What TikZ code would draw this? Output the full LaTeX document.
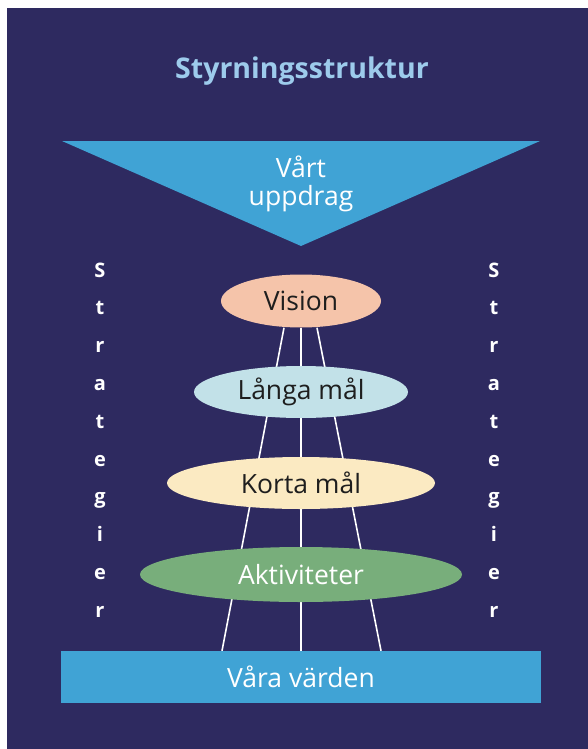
\documentclass[tikz,border=0pt]{standalone}
\usepackage{fontspec}
\setmainfont{Open Sans}
\usetikzlibrary{shapes.geometric}
\definecolor{bgdark}{HTML}{2E2A60}
\definecolor{skyblue}{HTML}{40A3D5}
\definecolor{titleblue}{HTML}{9DCBEC}
\definecolor{peach}{HTML}{F5C4AA}
\definecolor{paleblue}{HTML}{C2E1E8}
\definecolor{cream}{HTML}{FBEAC2}
\definecolor{sage}{HTML}{78AE7B}
\definecolor{ink}{HTML}{1E1E1E}
\pgfdeclarelayer{bglayer}
\pgfdeclarelayer{linelayer}
\pgfsetlayers{bglayer,linelayer,main}
\tikzset{
  oval/.style={ellipse, inner sep=0pt, text=ink, font=\fontsize{26.5}{28}\selectfont},
  letters/.style={text=white, font=\bfseries\fontsize{20}{37.8}\selectfont, align=center, inner sep=0pt},
  spoke/.style={white, line width=1.6pt}
}
\begin{document}
\begin{tikzpicture}[x=1pt,y=-1pt]
\useasboundingbox (0,0) rectangle (588,749);
\begin{pgfonlayer}{bglayer}
\fill[bgdark] (7,8) rectangle (588,749);
\end{pgfonlayer}
\node[anchor=base, text=titleblue, font=\bfseries\fontsize{28.5}{30}\selectfont] (title) at (302,79) {Styrningsstruktur};
\fill[skyblue] (62,141) -- (540,141) -- (301,246) -- cycle;
\node[text=white, font=\fontsize{26.5}{27.5}\selectfont, align=center] (mission) at (301,184) {Vårt\\uppdrag};
\node[oval, fill=peach, minimum width=160pt, minimum height=53pt] (vision) at (301,301) {Vision};
\node[oval, fill=paleblue, minimum width=214pt, minimum height=52pt] (lang) at (301,392) {Långa mål};
\node[oval, fill=cream, minimum width=268pt, minimum height=52pt] (kort) at (301,483) {Korta mål};
\node[oval, fill=sage, text=white, minimum width=322pt, minimum height=55pt] (akt) at (301,574.5) {Aktiviteter};
\node[fill=skyblue, minimum width=480pt, minimum height=52pt, inner sep=0pt, text=white, font=\fontsize{26.5}{28}\selectfont] (varden) at (301,677) {Våra värden};
\node[letters] (strl) at (100,440) {S\\t\\r\\a\\t\\e\\g\\i\\e\\r};
\node[letters] (strr) at (494,440) {S\\t\\r\\a\\t\\e\\g\\i\\e\\r};
\begin{pgfonlayer}{linelayer}
\draw[spoke] ([xshift=-17pt]vision.south) -- ([xshift=-79pt]varden.north);
\draw[spoke] (vision.south) -- (varden.north);
\draw[spoke] ([xshift=16pt]vision.south) -- ([xshift=80pt]varden.north);
\end{pgfonlayer}
\end{tikzpicture}
\end{document}
